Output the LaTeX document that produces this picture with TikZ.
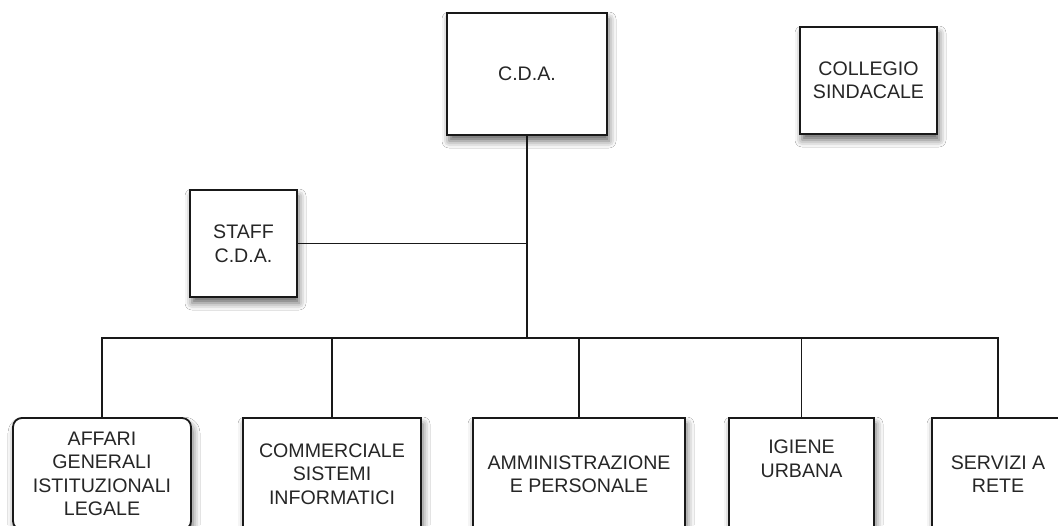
\documentclass[tikz,border=0pt]{standalone}
\usepackage{fontspec}
\setmainfont{Liberation Sans}
\usetikzlibrary{shadows.blur}
\tikzset{
  orgbox/.style={draw=black!90, line width=1.8pt, fill=white, inner sep=0pt,
    align=center, text=black!85,
    font=\fontsize{19.6}{23.5}\selectfont,
    blur shadow={shadow xshift=2pt, shadow yshift=-6pt, shadow blur radius=7pt, shadow opacity=60}},
  conn/.style={draw=black!90, line width=1.8pt}
}
\begin{document}
\begin{tikzpicture}[x=1pt,y=-1pt]
\useasboundingbox (0,0) rectangle (1058,525);
\clip (0,0) rectangle (1058,525);
\fill[white] (0,0) rectangle (1058,525);
\node[orgbox, minimum width=160pt, minimum height=122pt] (cda) at (527,74) {C.D.A.};
\node[orgbox, minimum width=137pt, minimum height=107pt] (col) at (868.5,80.5) {COLLEGIO\\SINDACALE};
\node[orgbox, minimum width=107pt, minimum height=107pt] (staff) at (243.5,243.5) {STAFF\\C.D.A.};
\node[orgbox, rounded corners=9pt, minimum width=178pt, minimum height=112pt] (aff) at (102,474) {AFFARI\\GENERALI\\ISTITUZIONALI\\LEGALE};
\node[orgbox, minimum width=178pt, minimum height=112pt] (com) at (332,474) {COMMERCIALE\\SISTEMI\\INFORMATICI};
\node[orgbox, minimum width=212pt, minimum height=112pt] (amm) at (579,474) {AMMINISTRAZIONE\\E PERSONALE};
\node[orgbox, minimum width=145pt, minimum height=112pt] (igi) at (801.5,474) {IGIENE\\URBANA\\\strut};
\node[orgbox, minimum width=132pt, minimum height=112pt] (ser) at (998,474) {SERVIZI A\\RETE};
\coordinate (bus) at (527,338);
\coordinate (st) at (527,243.5);
\draw[conn] (cda.south) -- (bus);
\draw[conn] (staff.east) -- (st);
\draw[conn] (aff.north) -- (aff.north |- bus) -- (ser.north |- bus) -- (ser.north);
\draw[conn] (com.north) -- (com.north |- bus);
\draw[conn] (amm.north) -- (amm.north |- bus);
\draw[conn] (igi.north) -- (igi.north |- bus);
\end{tikzpicture}
\end{document}
